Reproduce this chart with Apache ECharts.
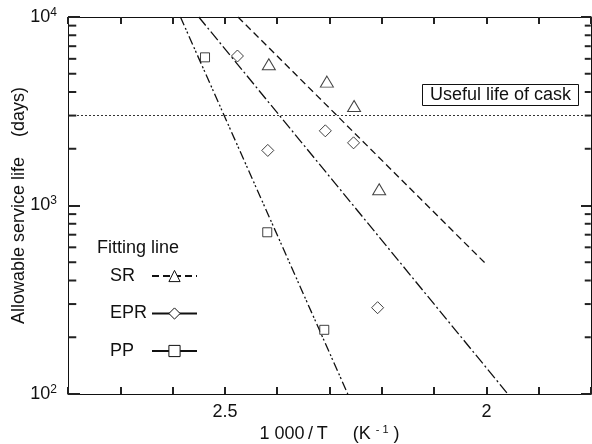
<!DOCTYPE html>
<html>
<head>
<meta charset="utf-8">
<script src="https://cdn.jsdelivr.net/npm/echarts@6/dist/echarts.min.js"></script>
<style>html,body{margin:0;padding:0;background:#fff}#c{width:592px;height:444px}</style>
</head>
<body>
<div id="c"></div>
<script>
// ---- data (x = 1000/T in K^-1, y = allowable service life in days) ----
const srPoints  = [[2.416, 5610], [2.305, 4540], [2.253, 3370], [2.205, 1220]];
const eprPoints = [[2.476, 6210], [2.418, 1960], [2.308, 2490], [2.254, 2150], [2.208, 287]];
const ppPoints  = [[2.538, 6110], [2.419, 721], [2.310, 219]];
const srFit  = [[2.475, 10000], [2.000, 487]];
const eprFit = [[2.550, 10000], [1.959, 100]];
const ppFit  = [[2.585, 10000], [2.265, 100]];
const usefulLife = 3000;
const xMin = 1.8, xMax = 2.8, xInterval = 0.1;
const xLabelValues = [2, 2.5];
const yMin = 100, yMax = 10000;
const minorTickValues = [200, 300, 400, 500, 600, 700, 800, 900, 2000, 3000, 4000, 5000, 6000, 7000, 8000, 9000];

const FONT = '"Liberation Sans", Arial, sans-serif';
const INK = '#111';
const TICK = '#222';
const TW = 2;
const chart = echarts.init(document.getElementById('c'), null, {renderer: 'canvas'});

const hollow = {color: '#fff', borderColor: INK, borderWidth: 1};

function fitSeries(name, data, dash, symbol) {
  return {
    name: name, type: 'line', data: data, symbol: symbol, showSymbol: false,
    symbolSize: 11, itemStyle: hollow,
    lineStyle: {color: INK, width: 1.3, type: dash},
    silent: true, animation: false, z: 3
  };
}
function pointSeries(name, data, symbol, size) {
  return {
    name: name, type: 'scatter', data: data, symbol: symbol, symbolSize: size,
    itemStyle: hollow, silent: true, animation: false, z: 4
  };
}
function tickSeries(name, xEdge, len, offset) {
  return {
    name: name, type: 'scatter', data: minorTickValues.map(v => [xEdge, v]),
    symbol: 'rect', symbolSize: [len, TW], symbolOffset: [offset, 0],
    itemStyle: {color: TICK, opacity: 1}, clip: false, silent: true, animation: false, z: 6
  };
}

const option = {
  backgroundColor: '#fff',
  animation: false,
  textStyle: {fontFamily: FONT, color: INK},
  grid: {left: 68, right: 1, top: 17, bottom: 50, containLabel: false, outerBoundsMode: 'none'},
  title: [
    {text: 'Useful life of cask', left: 422, top: 84, padding: [2, 8, 2, 8],
     borderColor: INK, borderWidth: 1, backgroundColor: '#fff',
     textStyle: {fontFamily: FONT, fontSize: 18, fontWeight: 'normal', color: INK}},
    {text: 'Fitting line', left: 97, top: 239, padding: 0,
     textStyle: {fontFamily: FONT, fontSize: 18, fontWeight: 'normal', color: INK}}
  ],
  legend: {
    data: [
      {name: 'SR'},
      {name: 'EPR', lineStyle: {type: 'solid'}},
      {name: 'PP', lineStyle: {type: 'solid'}}
    ],
    orient: 'vertical', left: 105, top: 262, align: 'right',
    itemWidth: 45, itemHeight: 14, itemGap: 19.5,
    selectedMode: false,
    itemStyle: {color: '#fff', borderColor: INK, borderWidth: 1},
    formatter: '{n|{name}}',
    textStyle: {fontFamily: FONT, fontSize: 18, color: INK,
      rich: {n: {width: 37, align: 'left', fontSize: 18, lineHeight: 18, fontFamily: FONT, color: INK}}}
  },
  xAxis: [
    {type: 'value', min: xMin, max: xMax, interval: xInterval, inverse: true,
     position: 'bottom',
     name: '1 000\u2009/\u2009T     (K {s|- 1} )', nameLocation: 'middle', nameGap: 30, nameMoveOverlap: false,
     nameTextStyle: {fontFamily: FONT, fontSize: 18, color: INK,
       rich: {s: {fontSize: 11, padding: [0, 0, 9, 0], fontFamily: FONT, color: INK}}},
     axisLine: {show: true, onZero: false, lineStyle: {color: INK, width: 1}},
     axisTick: {show: true, inside: true, length: 7, lineStyle: {color: TICK, width: TW}},
     axisLabel: {fontFamily: FONT, fontSize: 18, color: INK, margin: 9,
       formatter: v => xLabelValues.some(t => Math.abs(t - v) < 1e-6) ? String(+v.toFixed(1)) : ''},
     splitLine: {show: false}},
    {type: 'value', min: xMin, max: xMax, interval: xInterval, inverse: true,
     position: 'top',
     axisLine: {show: true, onZero: false, lineStyle: {color: INK, width: 1}},
     axisTick: {show: true, inside: true, length: 7, lineStyle: {color: TICK, width: TW}},
     axisLabel: {show: false}, splitLine: {show: false}}
  ],
  yAxis: [
    {type: 'log', logBase: 10, min: yMin, max: yMax, position: 'left',
     name: 'Allowable service life    (days)', nameLocation: 'middle', nameGap: 40, nameMoveOverlap: false,
     nameTextStyle: {fontFamily: FONT, fontSize: 18, color: INK},
     axisLine: {show: true, onZero: false, lineStyle: {color: INK, width: 1}},
     axisTick: {show: true, inside: true, length: 12, lineStyle: {color: TICK, width: TW}},
     axisLabel: {fontFamily: FONT, fontSize: 18, color: INK, margin: 11,
       formatter: v => '10{s|' + Math.round(Math.log10(v)) + '}',
       rich: {s: {fontSize: 12, padding: [0, 0, 9, 0], fontFamily: FONT, color: INK}}},
     splitLine: {show: false}},
    {type: 'log', logBase: 10, min: yMin, max: yMax, position: 'right',
     axisLine: {show: true, onZero: false, lineStyle: {color: INK, width: 1}},
     axisTick: {show: true, inside: true, length: 10, lineStyle: {color: TICK, width: TW}},
     axisLabel: {show: false}, splitLine: {show: false}}
  ],
  series: [
    tickSeries('minorLeft', xMax - 0.0005, 8, 4),
    tickSeries('minorRight', xMin + 0.0005, 6, -3),
    fitSeries('SR', srFit, [7, 4], 'triangle'),
    fitSeries('EPR', eprFit, [11, 3, 2, 3], 'diamond'),
    fitSeries('PP', ppFit, [9, 3, 2, 2, 2, 3], 'rect'),
    Object.assign(pointSeries('SR data', srPoints, 'triangle', [13, 11]), {
      markLine: {silent: true, symbol: 'none', animation: false,
        label: {show: false},
        lineStyle: {color: '#333', width: 1, type: [2, 2]},
        data: [{yAxis: usefulLife}]}
    }),
    pointSeries('EPR data', eprPoints, 'diamond', [12, 12]),
    pointSeries('PP data', ppPoints, 'rect', [9, 9])
  ]
};
chart.setOption(option);
</script>
</body>
</html>
